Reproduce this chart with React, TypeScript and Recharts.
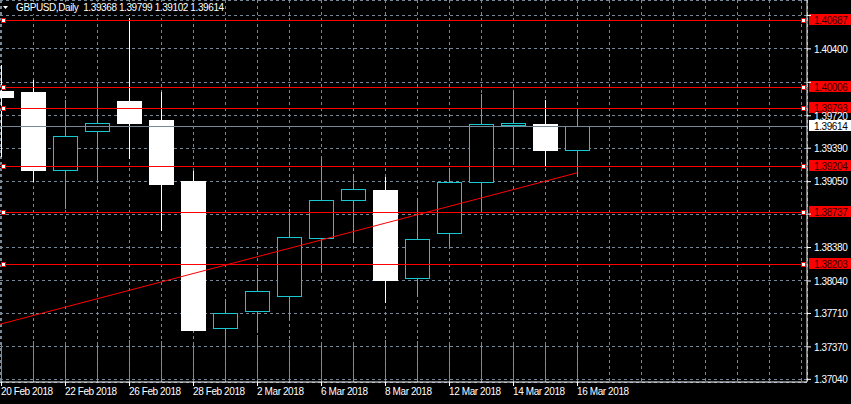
import { Bar, CartesianGrid, ComposedChart, ReferenceLine, XAxis, YAxis } from 'recharts'

const dates = ['20 Feb 2018', '21 Feb 2018', '22 Feb 2018', '23 Feb 2018', '26 Feb 2018', '27 Feb 2018', '28 Feb 2018', '1 Mar 2018', '2 Mar 2018', '5 Mar 2018', '6 Mar 2018', '7 Mar 2018', '8 Mar 2018', '9 Mar 2018', '12 Mar 2018', '13 Mar 2018', '14 Mar 2018', '15 Mar 2018', '16 Mar 2018']
const opens = [1.39976, 1.39965, 1.39162, 1.39559, 1.39874, 1.39681, 1.3906, 1.37555, 1.37728, 1.37881, 1.3847, 1.38857, 1.38969, 1.38064, 1.38521, 1.3904, 1.3962, 1.3964, 1.39368]
const highs = [1.4024, 1.40087, 1.39884, 1.40057, 1.40718, 1.39965, 1.39162, 1.3786, 1.38176, 1.38775, 1.39304, 1.39131, 1.39101, 1.38887, 1.39193, 1.39945, 1.39976, 1.39884, 1.39799]
const lows = [1.39304, 1.3905, 1.38775, 1.3904, 1.39284, 1.38552, 1.37528, 1.37423, 1.37515, 1.37647, 1.38135, 1.3843, 1.3782, 1.37881, 1.38389, 1.38745, 1.39223, 1.39213, 1.39102]
const closes = [1.39904, 1.39162, 1.39508, 1.3964, 1.3964, 1.3902, 1.37535, 1.37708, 1.37931, 1.38481, 1.38857, 1.38969, 1.38043, 1.3846, 1.3904, 1.3963, 1.3964, 1.39365, 1.39614]
const volumes = [105, 108, 106, 104, 110, 107, 105, 108, 123, 110, 105, 106, 110, 107, 104, 106, 105, 104, 100]

const priceTicks = [1.3704, 1.3737, 1.3771, 1.3804, 1.3838, 1.3872, 1.3905, 1.3939, 1.3972, 1.4006, 1.404, 1.4074]
const levels = [1.40687, 1.40006, 1.39793, 1.39204, 1.38737, 1.38203]
const bid = 1.39614
const trendFrom = { i: -1, price: 1.37519 }
const trendTo = { i: 18, price: 1.39141 }
const slotCount = 26 // daily slots incl. the empty right side

const CYAN = '#17c8d2'
const RED = '#ff0000'
const GREEN = '#32c832'
const FONT = "'Liberation Sans', Arial, sans-serif"
const X_DOMAIN = [-0.046875, 25.171875]
const Y_DOMAIN = [1.37013, 1.40897]
const W = 851
const H = 404

const data = dates.map((date, i) => ({
  i,
  date,
  open: opens[i],
  high: highs[i],
  low: lows[i],
  close: closes[i],
  range: [lows[i], highs[i]],
  vol: volumes[i],
}))
const slots = Array.from({ length: slotCount }, (_, i) => i)
const tagged = [...levels, bid]

function Candle(props: any) {
  const { x, y, width, height, payload } = props
  if (!payload || height == null) return null
  const c = Math.floor(x + width / 2) + 0.5
  const top = Math.min(y, y + height)
  const span = Math.abs(height)
  const k = span / (payload.high - payload.low)
  const py = (v: number) => top + (payload.high - v) * k
  const yo = py(payload.open)
  const yc = py(payload.close)
  const bTop = Math.min(yo, yc)
  const bBot = Math.max(yo, yc)
  if (payload.close >= payload.open) {
    return (
      <g shapeRendering="crispEdges">
        <line x1={c} x2={c} y1={top} y2={bTop} stroke={CYAN} />
        <line x1={c} x2={c} y1={bBot} y2={top + span} stroke={CYAN} />
        <rect x={c - 12} y={bTop} width={24} height={Math.max(bBot - bTop, 1)} fill="#000" stroke={CYAN} />
      </g>
    )
  }
  return (
    <g shapeRendering="crispEdges">
      <line x1={c} x2={c} y1={top} y2={top + span} stroke="#fff" />
      <rect x={c - 12.5} y={bTop} width={25} height={Math.max(bBot - bTop, 1)} fill="#fff" />
    </g>
  )
}

function VolumeBar(props: any) {
  const { x, y, width, height } = props
  if (height == null || !(Math.abs(height) > 0)) return null
  return (
    <rect
      x={Math.floor(x + width / 2)}
      y={Math.min(y, y + height)}
      width={1}
      height={Math.abs(height)}
      fill={GREEN}
      shapeRendering="crispEdges"
    />
  )
}

function PriceTag(props: { right: number; y: number; value: number; bg: string; color: string }) {
  return (
    <g>
      <rect x={props.right + 2} y={props.y - 6.5} width={50} height={11} fill={props.bg} shapeRendering="crispEdges" />
      <text x={props.right + 7} y={props.y} dy="0.34em" fill={props.color} fontSize={10} fontFamily={FONT} letterSpacing={-0.4}>
        {props.value.toFixed(5)}
      </text>
    </g>
  )
}

function LevelShape(props: any) {
  const { x1, y1, x2, value } = props
  if (x1 == null || y1 == null) return null
  const left = Math.min(x1, x2)
  const right = Math.max(x1, x2)
  const yy = Math.floor(y1) + 0.5
  return (
    <g shapeRendering="crispEdges">
      <line x1={left} x2={right} y1={yy} y2={yy} stroke={RED} strokeWidth={1} />
      <rect x={left + 1.5} y={yy - 2} width={4} height={4} fill="#fff" stroke={RED} />
      <rect x={right - 5.5} y={yy - 2} width={4} height={4} fill="#fff" stroke={RED} />
      <PriceTag right={right} y={yy} value={value} bg={RED} color="#300000" />
    </g>
  )
}

function BidShape(props: any) {
  const { x1, y1, x2 } = props
  if (x1 == null || y1 == null) return null
  const left = Math.min(x1, x2)
  const right = Math.max(x1, x2)
  const yy = Math.floor(y1) + 0.5
  return (
    <g shapeRendering="crispEdges">
      <line x1={left} x2={right} y1={yy} y2={yy} stroke="#778899" />
      <PriceTag right={right} y={yy} value={bid} bg="#fff" color="#000" />
    </g>
  )
}

function PriceTick(props: any) {
  const { x, y, payload } = props
  const v = payload.value
  // labels that sit under a price tag are hidden, as in the terminal
  if (tagged.some((t) => Math.abs(t - v) < 0.0007)) return null
  return (
    <text x={x} y={y} dy="0.38em" fill="#fff" fontSize={10} fontFamily={FONT} letterSpacing={-0.4}>
      {v.toFixed(5)}
    </text>
  )
}

function DateTick(props: any) {
  const { x, y, payload } = props
  const i = payload.value
  if (i % 2 !== 0 || i >= dates.length) return null
  return (
    <g>
      <line x1={Math.floor(x) + 0.5} x2={Math.floor(x) + 0.5} y1={y - 6} y2={y - 2} stroke="#fff" shapeRendering="crispEdges" />
      <text x={Math.floor(x)} y={y} dy="0.71em" fill="#fff" fontSize={10} fontFamily={FONT} letterSpacing={-0.4}>
        {dates[i]}
      </text>
    </g>
  )
}

// volume histogram sits in its own chart underneath, with the same plot area
function VolumeLayer() {
  return (
    <ComposedChart width={W} height={H} data={data} margin={{ top: 0, right: 0, left: 0, bottom: 0 }}>
      <XAxis
        type="number"
        dataKey="i"
        domain={X_DOMAIN}
        allowDataOverflow
        ticks={slots}
        interval={0}
        height={22}
        tick={false}
        tickLine={false}
        axisLine={false}
      />
      <YAxis orientation="right" type="number" domain={[0, 1000]} allowDataOverflow width={44} tick={false} tickLine={false} axisLine={false} />
      <Bar dataKey="vol" barSize={2} shape={<VolumeBar />} isAnimationActive={false} />
    </ComposedChart>
  )
}

export default function App() {
  const last = data[data.length - 1]
  return (
    <div style={{ position: 'absolute', left: 0, top: 0, width: W, height: H, background: '#000', overflow: 'hidden' }}>
      <div style={{ position: 'absolute', left: 0, top: 0 }}>
        <VolumeLayer />
      </div>
      <div style={{ position: 'absolute', left: 0, top: 0 }}>
        <ComposedChart width={W} height={H} data={data} margin={{ top: 0, right: 0, left: 0, bottom: 0 }}>
          <CartesianGrid stroke="#778899" strokeDasharray="3 3" shapeRendering="crispEdges" />
          <XAxis
            type="number"
            dataKey="i"
            domain={X_DOMAIN}
            allowDataOverflow
            ticks={slots}
            interval={0}
            height={22}
            tickSize={4}
            tickMargin={2}
            tickLine={false}
            axisLine={{ stroke: '#fff' }}
            tick={<DateTick />}
          />
          <YAxis
            orientation="right"
            type="number"
            domain={Y_DOMAIN}
            allowDataOverflow
            ticks={priceTicks}
            interval={0}
            width={44}
            tickSize={4}
            tickMargin={3}
            axisLine={{ stroke: '#fff' }}
            tickLine={{ stroke: '#fff' }}
            tick={<PriceTick />}
          />
          <ReferenceLine y={bid} shape={(p: any) => <BidShape {...p} />} />
          <Bar dataKey="range" barSize={26} shape={<Candle />} isAnimationActive={false} />
          {levels.map((v) => (
            <ReferenceLine key={v} y={v} shape={(p: any) => <LevelShape {...p} value={v} />} />
          ))}
          <ReferenceLine
            segment={[
              { x: trendFrom.i, y: trendFrom.price },
              { x: trendTo.i, y: trendTo.price },
            ]}
            stroke={RED}
            ifOverflow="hidden"
          />
        </ComposedChart>
      </div>
      <div
        style={{
          position: 'absolute',
          left: 3,
          top: 2,
          color: '#fff',
          fontFamily: FONT,
          fontSize: 10,
          letterSpacing: -0.4,
          whiteSpace: 'pre',
          display: 'flex',
          alignItems: 'center',
          background: '#000',
          lineHeight: '12px',
        }}
      >
        <svg width={13} height={12}>
          <polygon points="0,4 5,4 2.5,7" fill="#fff" />
        </svg>
        <span>
          {'GBPUSD,Daily  ' + [last.open, last.high, last.low, last.close].map((v) => v.toFixed(5)).join(' ')}
        </span>
      </div>
    </div>
  )
}
